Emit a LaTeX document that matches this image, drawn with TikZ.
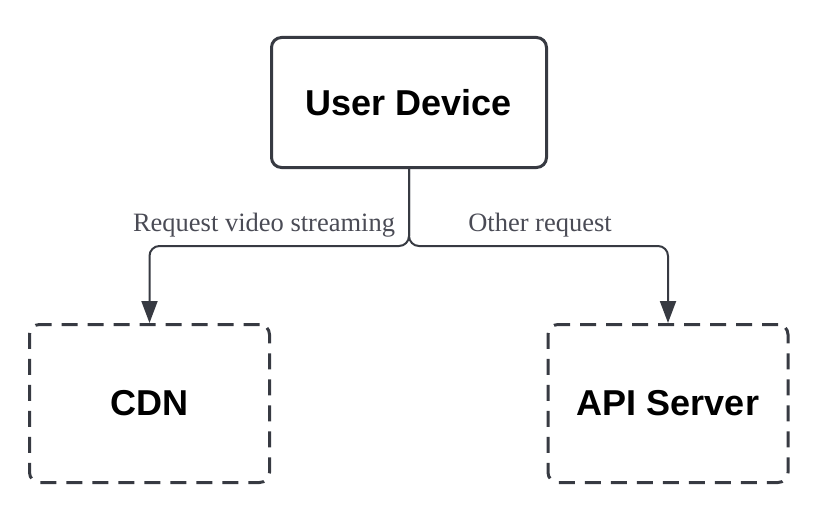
\documentclass[tikz,border=0pt]{standalone}
\usepackage{fontspec}
\setmainfont{Liberation Serif}
\setsansfont{Liberation Sans}
\usetikzlibrary{arrows.meta,positioning}
\definecolor{linie}{HTML}{373A42}
\definecolor{schrift}{HTML}{4A4B55}

\begin{document}
\begin{tikzpicture}[x=1pt,y=-1pt,
	box/.style={draw=linie, line width=3pt, rounded corners=10pt, minimum width=275pt, minimum height=130pt, font=\sffamily\bfseries\fontsize{36}{40}\selectfont},
	dashbox/.style={box, dash pattern=on 16pt off 10pt, minimum width=240pt, minimum height=158pt},
	conn/.style={draw=linie, line width=2pt, rounded corners=10pt, -{Triangle[width=16pt,length=22pt]}},
	lbl/.style={text=schrift, font=\fontsize{26.5}{30}\selectfont}]
	\useasboundingbox (0,0) rectangle (826,516);
	% Knoten
		\node (user) at (409,102.5) [box] {User Device};
		\node (cdn) at (149.5,403.5) [dashbox] {CDN};
		\node (api) at (668,403.5) [dashbox] {API Server};
		\coordinate (split) at (409,246);
	% Kanten
		\draw[conn] (user.south) -- (split) -| (cdn.north);
		\draw[conn] (user.south) -- (split) -| (api.north);
		\node (req) at (264,225) [lbl] {Request video streaming};
		\node (other) at (540,225) [lbl] {Other request};
	\end{tikzpicture}
\end{document}
